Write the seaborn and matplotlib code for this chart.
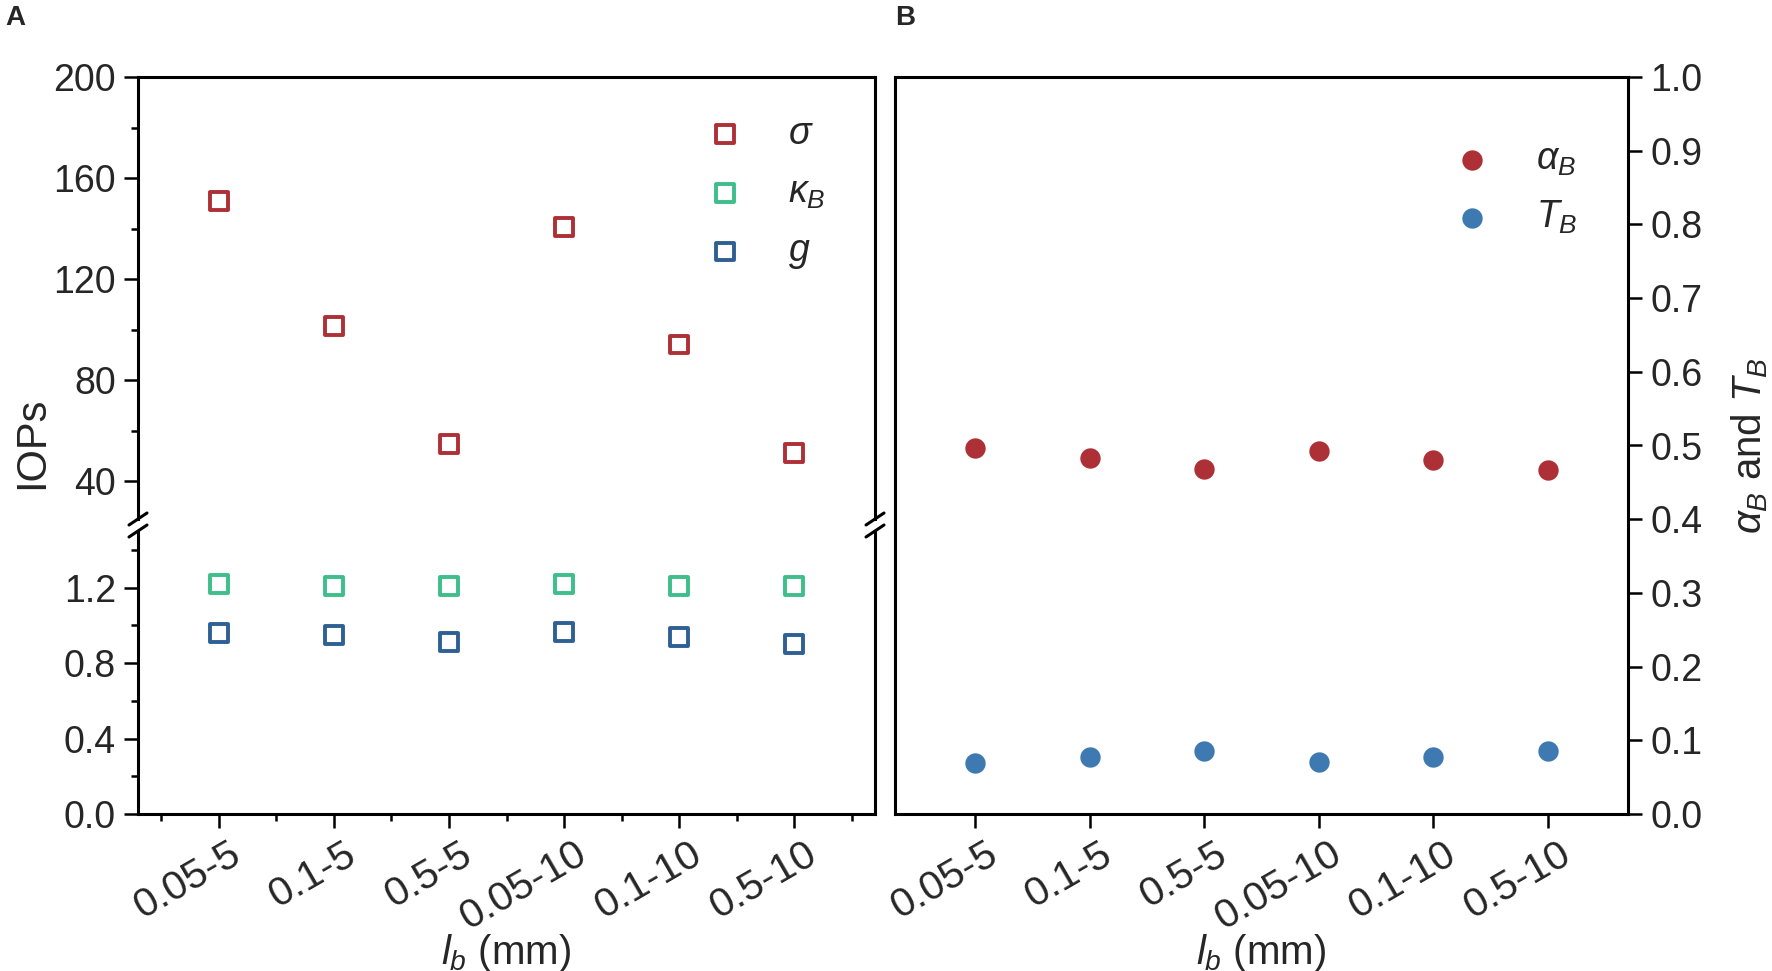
import numpy as np
import pandas as pd
import matplotlib
matplotlib.use("Agg")
import matplotlib.pyplot as plt
import matplotlib.transforms as mtransforms
import seaborn as sns
from matplotlib.lines import Line2D
from matplotlib.ticker import FormatStrFormatter

# data
ranges = ['0.05-5', '0.1-5', '0.5-5', '0.05-10', '0.1-10', '0.5-10']
sigma = [150.8, 101.5, 54.7, 140.6, 94.1, 51.2]
kappa_b = [1.22, 1.21, 1.21, 1.22, 1.21, 1.21]
g = [0.96, 0.95, 0.91, 0.965, 0.94, 0.90]
alpha_b = [0.496, 0.483, 0.468, 0.493, 0.480, 0.467]
t_b = [0.069, 0.077, 0.085, 0.071, 0.078, 0.086]

red = '#AE3037'
green = '#3DBE8B'
blue_dark = '#2F6094'
blue = '#3E7AB1'

sns.set_theme(style='ticks')
plt.rcParams['font.family'] = ['Liberation Sans', 'DejaVu Sans']
plt.rcParams['mathtext.fontset'] = 'custom'
plt.rcParams['mathtext.rm'] = 'Liberation Sans'
plt.rcParams['mathtext.it'] = 'Liberation Sans:italic'
plt.rcParams['axes.linewidth'] = 2.2
plt.rcParams['axes.edgecolor'] = 'black'

TICK = 27
XTICK = 29.5
W, H = 1772, 971
fig = plt.figure(figsize=(W / 100, H / 100), dpi=100)


def px_axes(l, t, r, b):
    return fig.add_axes([l / W, 1 - b / H, (r - l) / W, (b - t) / H])


ax_top = px_axes(138, 77, 875, 519)
ax_bot = px_axes(138, 531, 875, 814)
ax_b = px_axes(895, 77, 1628, 814)

pos = np.arange(1, len(ranges) + 1)
df_a = pd.DataFrame({'pos': pos, 'sigma': sigma, 'kappa': kappa_b, 'g': g})
df_b = pd.DataFrame({'pos': pos, 'alpha': alpha_b, 'T': t_b})

sq = dict(marker='s', s=165, facecolor='none', linewidth=2.8, legend=False)
sns.scatterplot(data=df_a, x='pos', y='sigma', ax=ax_top, edgecolor=red, color=red, **sq)
sns.scatterplot(data=df_a, x='pos', y='kappa', ax=ax_bot, edgecolor=green, color=green, **sq)
sns.scatterplot(data=df_a, x='pos', y='g', ax=ax_bot, edgecolor=blue_dark, color=blue_dark, **sq)

dot = dict(marker='o', s=215, linewidth=0, legend=False)
sns.scatterplot(data=df_b, x='pos', y='alpha', ax=ax_b, color=red, **dot)
sns.scatterplot(data=df_b, x='pos', y='T', ax=ax_b, color=blue, **dot)

for ax in (ax_top, ax_bot, ax_b):
    ax.set_xlim(0.3, 6.7)
    ax.set_xlabel('')
    ax.set_ylabel('')
    ax.tick_params(which='major', direction='out', length=10, width=1.8,
                   labelsize=TICK, color='black', pad=6)
    ax.tick_params(which='minor', direction='out', length=5, width=1.8, color='black')
    ax.tick_params(axis='x', which='major', labelsize=XTICK, pad=5)
    for s in ax.spines.values():
        s.set_linewidth(2.2)
        s.set_color('black')

# panel A, upper part
ax_top.set_ylim(25, 200)
ax_top.set_yticks([40, 80, 120, 160, 200])
ax_top.set_yticks([60, 100, 140, 180], minor=True)
ax_top.spines['bottom'].set_visible(False)
ax_top.tick_params(axis='x', which='both', bottom=False, top=False, labelbottom=False)
ax_top.tick_params(axis='y', which='both', left=True, right=False)

# panel A, lower part
ax_bot.set_ylim(0, 1.5)
ax_bot.set_yticks([0.0, 0.4, 0.8, 1.2])
ax_bot.set_yticks([0.2, 0.6, 1.0, 1.4], minor=True)
ax_bot.yaxis.set_major_formatter(FormatStrFormatter('%.1f'))
ax_bot.spines['top'].set_visible(False)
ax_bot.set_xticks(pos)
ax_bot.set_xticks(np.arange(0.5, 7.0, 1.0), minor=True)
ax_bot.set_xticklabels(ranges, rotation=30, ha='right', rotation_mode='anchor')
ax_bot.tick_params(axis='y', which='both', left=True, right=False)
ax_bot.set_xlabel(r'$l_b$ (mm)', fontsize=29)
ax_bot.xaxis.set_label_coords(0.5, -0.49)
ax_bot.xaxis.label.set_va('center')

# panel B
ax_b.set_ylim(0, 1.0)
ax_b.set_yticks(np.round(np.arange(0, 1.01, 0.1), 1))
ax_b.yaxis.set_major_formatter(FormatStrFormatter('%.1f'))
ax_b.yaxis.tick_right()
ax_b.tick_params(axis='y', which='both', left=False, right=True)
ax_b.set_xticks(pos)
ax_b.set_xticklabels(ranges, rotation=30, ha='right', rotation_mode='anchor')
ax_b.set_xlabel(r'$l_b$ (mm)', fontsize=29)
ax_b.xaxis.set_label_coords(0.5, -0.188)
ax_b.xaxis.label.set_va('center')
ax_b.yaxis.set_label_position('right')
ax_b.set_ylabel(r'$\alpha_B$ and $T_B$', fontsize=29, rotation=90)
ax_b.yaxis.set_label_coords(1.166, 0.5)
ax_b.yaxis.label.set_va('center')

# nudge rotated tick labels a little to the right, like the original
shift = mtransforms.ScaledTranslation(0.1, 0, fig.dpi_scale_trans)
for ax in (ax_bot, ax_b):
    for lab in ax.get_xticklabels():
        lab.set_transform(lab.get_transform() + shift)

fig.text(32 / W, 1 - 443 / H, 'IOPs', rotation=90, fontsize=30, ha='center', va='center')

# axis break marks
for x in (138, 875):
    for y in (519, 531):
        fig.add_artist(Line2D([(x - 9) / W, (x + 9) / W], [1 - (y + 6) / H, 1 - (y - 6) / H],
                              transform=fig.transFigure, color='black', lw=2.2))

# legends
h_a = [ax_top.collections[0], ax_bot.collections[0], ax_bot.collections[1]]
ax_top.legend(h_a, [r'$\sigma$', r'$\kappa_B$', r'$g$'], loc='upper left',
              bbox_to_anchor=(706 / W, 1 - 116 / H), bbox_transform=fig.transFigure,
              frameon=False, fontsize=TICK, handlelength=1.0, handletextpad=1.2,
              labelspacing=0.6, borderpad=0, borderaxespad=0, scatterpoints=1)
ax_b.legend(ax_b.collections[:2], [r'$\alpha_B$', r'$T_B$'], loc='upper left',
            bbox_to_anchor=(1453 / W, 1 - 142 / H), bbox_transform=fig.transFigure,
            frameon=False, fontsize=TICK, handlelength=1.0, handletextpad=1.2,
            labelspacing=0.55, borderpad=0, borderaxespad=0, scatterpoints=1)

fig.text(5 / W, 1 - 5 / H, 'A', fontsize=20, fontweight='bold', va='top', ha='left')
fig.text(895 / W, 1 - 5 / H, 'B', fontsize=20, fontweight='bold', va='top', ha='left')

fig.savefig('out.png', dpi=100)
